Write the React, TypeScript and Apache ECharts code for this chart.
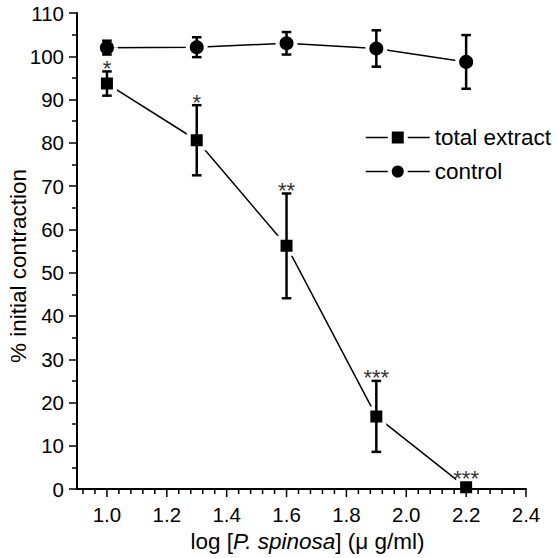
import React, { useEffect, useRef } from "react";
import * as echarts from "echarts";

// ---- data ----
const xValues = [1.0, 1.3, 1.6, 1.9, 2.2];
const extractMean = [93.7, 80.6, 56.2, 16.8, 0.4];
const extractErr = [2.8, 8.1, 12.1, 8.2, 0];
const extractStars = ["*", "*", "**", "***", "***"];
const controlMean = [102.0, 102.1, 103.0, 101.8, 98.7];
const controlErr = [1.6, 2.3, 2.6, 4.2, 6.2];
const seriesNames = ["total extract", "control"];

// axis ticks
const xMin = 0.9;
const xMax = 2.4;
const xMajorTicks = [1.0, 1.2, 1.4, 1.6, 1.8, 2.0, 2.2, 2.4];
const xMinorStep = 0.04;
const yMin = 0;
const yMax = 110;
const yInterval = 10;

const FONT = "'Liberation Sans', Arial, Helvetica, sans-serif";

function buildMinorTicks(): number[] {
  const out: number[] = [];
  const start = Math.ceil(xMin / xMinorStep - 1e-9);
  const end = Math.floor(xMax / xMinorStep + 1e-9);
  for (let k = start; k <= end; k++) {
    const v = Math.round(k * xMinorStep * 1000) / 1000;
    if (v <= xMin + 1e-9) continue;
    if (xMajorTicks.some((m) => Math.abs(m - v) < 1e-6)) continue;
    out.push(v);
  }
  return out;
}

export default function App() {
  const ref = useRef<HTMLDivElement>(null);

  useEffect(() => {
    if (!ref.current) return;
    const chart = echarts.init(ref.current, undefined, { renderer: "svg" });
    const extractData = xValues.map((x, i) => [x, extractMean[i]]);
    const controlData = xValues.map((x, i) => [x, controlMean[i]]);
    const extractErrData = xValues.map((x, i) => [x, extractMean[i], extractErr[i]]);
    const controlErrData = xValues.map((x, i) => [x, controlMean[i], controlErr[i]]);
    const minorTicks = buildMinorTicks();

    const errRender = (params: any, api: any) => {
      const x = api.value(0);
      const m = api.value(1);
      const e = api.value(2);
      if (!(e > 0)) return { type: "group", children: [] };
      const top = api.coord([x, m + e]);
      const bot = api.coord([x, m - e]);
      const cap = 4.8;
      const st = { stroke: "#000", lineWidth: 2.5 };
      return {
        type: "group",
        children: [
          { type: "line", shape: { x1: top[0], y1: top[1], x2: bot[0], y2: bot[1] }, style: st },
          { type: "line", shape: { x1: top[0] - cap, y1: top[1], x2: top[0] + cap, y2: top[1] }, style: st },
          { type: "line", shape: { x1: bot[0] - cap, y1: bot[1], x2: bot[0] + cap, y2: bot[1] }, style: st },
        ],
      };
    };

    const starRender = (params: any, api: any) => {
      const x = api.value(0);
      const m = api.value(1);
      const e = api.value(2);
      const c = api.coord([x, m]);
      const t = api.coord([x, m + e]);
      const y = Math.min(t[1], c[1] - 6) - 3;
      return {
        type: "text",
        x: c[0],
        y: y,
        style: {
          text: extractStars[params.dataIndex],
          fill: "#333",
          font: `22px ${FONT}`,
          align: "center",
          verticalAlign: "middle",
        },
      };
    };

    const tickRender = (len: number) => (params: any, api: any) => {
      const p = api.coord([api.value(0), yMin]);
      return {
        type: "line",
        shape: { x1: p[0], y1: p[1], x2: p[0], y2: p[1] + len },
        style: { stroke: "#000", lineWidth: 1.5 },
      };
    };

    chart.setOption({
      animation: false,
      backgroundColor: "#fff",
      grid: { left: 77, right: 32, top: 13, bottom: 64, containLabel: false },
      legend: {
        orient: "vertical",
        left: 365,
        top: 126,
        padding: 0,
        itemWidth: 64,
        itemHeight: 20,
        itemGap: 11,
        data: seriesNames,
        textStyle: { color: "#000", fontSize: 22.5, fontFamily: FONT },
        itemStyle: { borderWidth: 4, borderColor: "#fff" },
        lineStyle: { width: 1.5, color: "#000" },
      },
      xAxis: {
        type: "value",
        min: xMin,
        max: xMax,
        splitNumber: 7,
        z: 5,
        axisLine: { lineStyle: { color: "#000", width: 2 } },
        axisTick: { show: false },
        splitLine: { show: false },
        axisLabel: {
          showMinLabel: false,
          color: "#000",
          fontSize: 20.5,
          fontFamily: FONT,
          margin: 15,
          formatter: (v: number) => v.toFixed(1),
        },
        name: "log [{i|P. spinosa}] (μ g/ml)",
        nameLocation: "middle",
        nameGap: 36,
        nameTextStyle: {
          color: "#000",
          fontSize: 22.5,
          fontFamily: FONT,
          padding: [0, 0, 0, 12],
          rich: { i: { fontStyle: "italic", fontSize: 22.5, fontFamily: FONT, color: "#000" } },
        },
      },
      yAxis: {
        type: "value",
        min: yMin,
        max: yMax,
        interval: yInterval,
        axisLine: { show: true, lineStyle: { color: "#000", width: 2 } },
        axisTick: { show: true, length: 8, lineStyle: { color: "#000", width: 1.5 } },
        minorTick: { show: true, splitNumber: 2, length: 5, lineStyle: { color: "#000", width: 1.5 } },
        splitLine: { show: false },
        axisLabel: { color: "#000", fontSize: 20.5, fontFamily: FONT, margin: 13 },
      },
      graphic: [
        {
          type: "text",
          x: 18,
          y: 266,
          rotation: Math.PI / 2,
          style: {
            text: "% initial contraction",
            font: `22.5px ${FONT}`,
            fill: "#000",
            align: "center",
            verticalAlign: "middle",
          },
        },
      ],
      series: [
        {
          name: seriesNames[0],
          type: "line",
          data: extractData,
          symbol: "rect",
          symbolSize: 16,
          clip: false,
          z: 2,
          lineStyle: { color: "#000", width: 1.5 },
          itemStyle: { color: "#000", borderColor: "#fff", borderWidth: 4 },
        },
        {
          name: seriesNames[1],
          type: "line",
          data: controlData,
          symbol: "circle",
          symbolSize: 18,
          clip: false,
          z: 2,
          lineStyle: { color: "#000", width: 1.5 },
          itemStyle: { color: "#000", borderColor: "#fff", borderWidth: 4 },
        },
        { type: "custom", data: extractErrData, renderItem: errRender, z: 3, silent: true, clip: false },
        { type: "custom", data: controlErrData, renderItem: errRender, z: 3, silent: true, clip: false },
        { type: "custom", data: extractErrData, renderItem: starRender, z: 3, silent: true, clip: false },
        { type: "custom", data: xMajorTicks.map((v) => [v, yMin]), renderItem: tickRender(8), z: 3, silent: true, clip: false },
        { type: "custom", data: minorTicks.map((v) => [v, yMin]), renderItem: tickRender(5), z: 3, silent: true, clip: false },
      ],
    });
    return () => chart.dispose();
  }, []);

  return (
    <div
      ref={ref}
      style={{ position: "fixed", left: 0, top: 0, width: 558, height: 558, background: "#fff" }}
    />
  );
}
